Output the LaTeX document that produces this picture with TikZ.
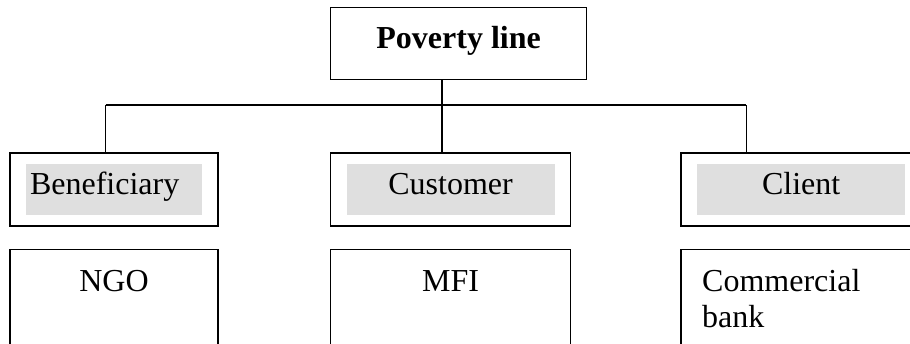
\documentclass[tikz,border=0pt]{standalone}
\usepackage{fontspec}
\setmainfont{Liberation Serif}
\definecolor{shade}{RGB}{223,223,223}
\usetikzlibrary{positioning}
\tikzset{
	headbox/.style={rectangle, draw=black, line width=0.8pt, minimum width=128pt, minimum height=36pt, inner sep=0pt, text height=8pt, text depth=3pt, font=\fontsize{16}{18}\selectfont\bfseries},
	rolebox/.style={rectangle, draw=black, line width=0.8pt, minimum height=36.5pt, inner sep=0pt},
	shadebox/.style={rectangle, fill=shade, minimum height=25.5pt, inner sep=0pt, text height=8pt, text depth=3.4pt, font=\fontsize{16}{18}\selectfont},
	orgbox/.style={rectangle, draw=black, line width=0.8pt, inner xsep=10.5pt, inner ysep=0pt, text height=21pt, text depth=40pt, align=center, font=\fontsize{16}{18}\selectfont},
	link/.style={line width=0.6pt, draw=black},
}
\begin{document}
\begin{tikzpicture}[x=0.5pt, y=-0.5pt, node distance=11pt and 55.5pt]
	\path[use as bounding box, clip] (0,0) rectangle (910,343);
	\node[rolebox, minimum width=104pt] (ben) at (114,189.5) {};
	\node[rolebox, minimum width=120pt, right=55.5pt of ben] (cus) {};
	\node[rolebox, minimum width=120pt, right=54.5pt of cus] (cli) {};
	\node[shadebox, text width=84pt, inner xsep=2pt, align=left] (benlab) at (ben) {Beneficiary};
	\node[shadebox, minimum width=104pt] (cuslab) at (cus) {Customer};
	\node[shadebox, minimum width=104pt] (clilab) at (cli) {Client};
	\node[headbox, above=36pt of cus, xshift=4pt] (pov) {Poverty line};
	\node[orgbox, text width=83pt, below=11pt of ben] (ngo) {NGO};
	\node[orgbox, text width=99pt, below=11pt of cus] (mfi) {MFI};
	\node[orgbox, text width=99pt, align=left, below=11pt of cli] (bank) {Commercial\\bank};
	\coordinate (stem) at (442,105);
	\coordinate (busL) at (105.6,105);
	\coordinate (busR) at (746.4,105);
	\draw[link] (pov.south -| stem) -- (cus.north -| stem);
	\draw[link] (busL) -- (busR);
	\foreach \x/\y in {busL/ben,busR/cli}{\draw[link] (\x) -- (\y.north -| \x);}
\end{tikzpicture}
\end{document}
